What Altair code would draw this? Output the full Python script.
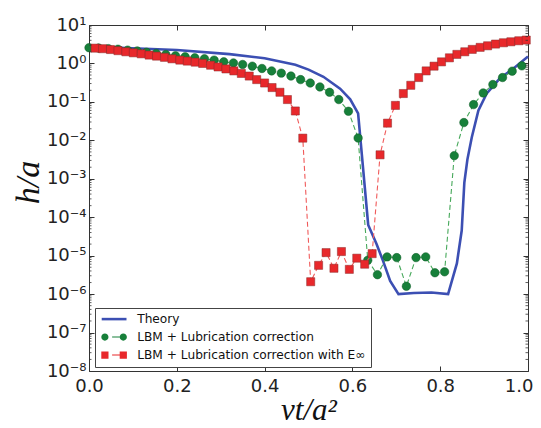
import altair as alt
import pandas as pd

# ---------------- data ----------------
theory_t = [0.0, 0.07, 0.2, 0.32, 0.4, 0.47, 0.5, 0.534, 0.572, 0.595, 0.613,
            0.636, 0.655, 0.67, 0.686, 0.705, 0.74, 0.78, 0.818, 0.838, 0.849,
            0.855, 0.862, 0.872, 0.887, 0.906, 0.936, 0.967, 1.0]
theory_h = [2.7, 2.57, 2.24, 1.75, 1.36, 0.92, 0.69, 0.45, 0.22, 0.117, 0.05,
            6.3e-5, 2.0e-5, 7.2e-6, 2.2e-6, 1.0e-6, 1.07e-6, 1.1e-6, 1.0e-6, 6.3e-6, 4.5e-5,
            8.0e-4, 3.2e-3, 1.2e-2, 6.0e-2, 0.166, 0.41, 0.74, 1.51]

green_t = [0.0, 0.022, 0.044, 0.066, 0.088, 0.11, 0.131, 0.153, 0.175, 0.197,
           0.219, 0.241, 0.263, 0.285, 0.307, 0.329, 0.35, 0.372, 0.394, 0.416,
           0.438, 0.46, 0.482, 0.504, 0.526, 0.548, 0.569, 0.591, 0.613, 0.635,
           0.657, 0.679, 0.701, 0.723, 0.745, 0.767, 0.788, 0.81, 0.832, 0.854,
           0.876, 0.898, 0.92, 0.942, 0.964, 0.986]
green_h = [2.57, 2.51, 2.43, 2.34, 2.22, 2.11, 1.95, 1.82, 1.71, 1.58,
           1.49, 1.40, 1.32, 1.22, 1.10, 1.03, 0.94, 0.85, 0.74, 0.64,
           0.56, 0.47, 0.38, 0.31, 0.245, 0.178, 0.115, 0.057, 0.0115, 7.6e-6,
           3.2e-6, 9.3e-6, 8.9e-6, 1.6e-6, 8.9e-6, 9.3e-6, 3.6e-6, 3.8e-6, 4.0e-3, 0.029,
           0.085, 0.171, 0.283, 0.43, 0.63, 0.865]

red_t = [0.014, 0.031, 0.049, 0.066, 0.084, 0.101, 0.119, 0.137, 0.154, 0.172,
         0.189, 0.207, 0.224, 0.242, 0.259, 0.277, 0.294, 0.312, 0.33, 0.347,
         0.365, 0.382, 0.4, 0.417, 0.435, 0.452, 0.47, 0.487, 0.505, 0.523,
         0.54, 0.558, 0.575, 0.593, 0.61, 0.628, 0.645, 0.663, 0.68, 0.698,
         0.716, 0.733, 0.751, 0.768, 0.786, 0.803, 0.821, 0.838, 0.856, 0.873,
         0.891, 0.908, 0.926, 0.944, 0.961, 0.979, 0.996]
red_h = [2.5, 2.42, 2.3, 2.15, 2.01, 1.89, 1.78, 1.65, 1.55, 1.44,
         1.32, 1.22, 1.15, 1.08, 1.0, 0.90, 0.81, 0.72, 0.64, 0.55,
         0.47, 0.38, 0.31, 0.236, 0.178, 0.115, 0.058, 0.0114, 2.1e-6, 5.6e-6,
         1.2e-5, 4.7e-6, 1.28e-5, 4.4e-6, 8.6e-6, 6.0e-6, 1.13e-5, 4.2e-3, 0.028, 0.081,
         0.165, 0.27, 0.43, 0.64, 0.85, 1.10, 1.40, 1.72, 2.01, 2.32,
         2.62, 2.88, 3.19, 3.45, 3.66, 3.89, 4.06]

series_names = ["Theory", "LBM + Lubrication correction",
                "LBM + Lubrication correction with E\u221e"]

x_ticks = [0.0, 0.2, 0.4, 0.6, 0.8, 1.0]
y_ticks = [1e-8, 1e-7, 1e-6, 1e-5, 1e-4, 1e-3, 1e-2, 1e-1, 1e0, 1e1]
y_tick_labels = ["10\u207b\u2078", "10\u207b\u2077", "10\u207b\u2076", "10\u207b\u2075",
                 "10\u207b\u2074", "10\u207b\u00b3", "10\u207b\u00b2", "10\u207b\u00b9",
                 "10\u2070", "10\u00b9"]
y_minor = [m * 10.0 ** e for e in range(-8, 1) for m in range(2, 10)]

# ---------------- style ----------------
W, H = 439, 346
BLUE = "#3c4fb3"
GREEN = "#17803a"
RED = "#e8282b"
GREEN_DASH = "#46a85a"
RED_DASH = "#f05a5a"
TICK = "#333333"

xscale = alt.Scale(domain=[0, 1], nice=False, zero=False)
yscale = alt.Scale(type="log", domain=[1e-8, 10], nice=False)

label_expr = "[" + ",".join("'%s'" % s for s in y_tick_labels) + "][round(log(datum.value)/LN10)+8]"

theory_df = pd.DataFrame({"t": theory_t, "h": theory_h})
green_df = pd.DataFrame({"t": green_t, "h": green_h})
red_df = pd.DataFrame({"t": red_t, "h": red_h})
minor_df = pd.DataFrame({"v": y_minor})
legend_df = pd.DataFrame({"series": series_names, "t": [0.5] * 3, "h": [1e-12] * 3})

bottom_axis = alt.Axis(values=x_ticks, format=".1f", offset=-5, tickSize=5, domain=False,
                       grid=False, labelFlush=False, labelPadding=6, labelFont="DejaVu Sans",
                       labelFontSize=18, labelColor="#222222", tickColor=TICK, tickWidth=1,
                       labelAlign={"condition": {"test": "datum.value >= 0.99", "value": "right"},
                                   "value": "center"},
                       labelOffset={"condition": {"test": "datum.value >= 0.99", "value": 5},
                                    "value": 0},
                       title="\u03bdt/a\u00b2", titleFont="Liberation Serif",
                       titleFontStyle="italic", titleFontWeight="normal", titleFontSize=31,
                       titleColor="#111111", titleBaseline="alphabetic", titleY=53)
left_axis = alt.Axis(values=y_ticks, labelExpr=label_expr, offset=-5, tickSize=5, domain=False,
                     grid=False, labelFlush=False, labelPadding=3, labelFont="DejaVu Sans",
                     labelFontSize=18, labelColor="#222222", tickColor=TICK, tickWidth=1,
                     title="h/a", titleFont="Liberation Serif", titleFontStyle="italic",
                     titleFontWeight="normal", titleFontSize=34, titleColor="#111111",
                     titleAngle=270, titleAlign="center", titleBaseline="middle",
                     titleX=-66, titleY=H / 2 - 16)
top_axis = alt.Axis(orient="top", values=x_ticks, labels=False, offset=-5, tickSize=5,
                    domain=False, grid=False, title=None, tickColor=TICK, tickWidth=1)
right_axis = alt.Axis(orient="right", values=y_ticks, labels=False, offset=-5, tickSize=5,
                      domain=False, grid=False, title=None, tickColor=TICK, tickWidth=1)

theory = alt.Chart(theory_df).mark_line(color=BLUE, strokeWidth=2.6).encode(
    x=alt.X("t:Q", scale=xscale, axis=bottom_axis),
    y=alt.Y("h:Q", scale=yscale, axis=left_axis),
)

green_line = alt.Chart(green_df).mark_line(color=GREEN_DASH, strokeWidth=1.1,
                                           strokeDash=[5, 3]).encode(
    x=alt.X("t:Q", scale=xscale, axis=top_axis),
    y=alt.Y("h:Q", scale=yscale, axis=right_axis),
)
green_pts = alt.Chart(green_df).mark_point(shape="circle", filled=True, size=72, fill=GREEN,
                                           fillOpacity=1, stroke="#0f5a26", strokeWidth=0.5,
                                           opacity=1).encode(
    x=alt.X("t:Q", scale=xscale, axis=None),
    y=alt.Y("h:Q", scale=yscale, axis=None),
)
red_line = alt.Chart(red_df).mark_line(color=RED_DASH, strokeWidth=1.1,
                                       strokeDash=[5, 3]).encode(
    x=alt.X("t:Q", scale=xscale, axis=None),
    y=alt.Y("h:Q", scale=yscale, axis=None),
)
red_pts = alt.Chart(red_df).mark_point(shape="square", filled=True, size=66, fill=RED,
                                       fillOpacity=1, stroke="#8a2a2a", strokeWidth=0.5,
                                       opacity=1).encode(
    x=alt.X("t:Q", scale=xscale, axis=None),
    y=alt.Y("h:Q", scale=yscale, axis=None),
)

minor_left = alt.Chart(minor_df).mark_rule(color=TICK, strokeWidth=0.8).encode(
    y=alt.Y("v:Q", scale=yscale, axis=None),
    x=alt.value(0), x2=alt.value(2.5),
)
minor_right = alt.Chart(minor_df).mark_rule(color=TICK, strokeWidth=0.8).encode(
    y=alt.Y("v:Q", scale=yscale, axis=None),
    x=alt.value(W - 2.5), x2=alt.value(W),
)

# legend symbols (custom paths: line, circle-dash-circle, square-dash-square)
sym_paths = [
    "M-3.1,-0.32H3.1V0.32H-3.1Z",
    "M-3.2,0A0.9,0.9,0,1,0,-1.4,0A0.9,0.9,0,1,0,-3.2,0Z"
    "M1.4,0A0.9,0.9,0,1,0,3.2,0A0.9,0.9,0,1,0,1.4,0Z"
    "M-0.5,-0.13H1.4V0.13H-0.5Z",
    "M-3.2,-0.9H-1.4V0.9H-3.2Z"
    "M1.4,-0.9H3.2V0.9H1.4Z"
    "M-0.5,-0.13H1.4V0.13H-0.5Z",
]
leg = alt.Legend(title=None, orient="none", legendX=6, legendY=283, padding=5,
                 rowPadding=5, symbolSize=64, symbolOffset=8, labelOffset=17,
                 labelFont="DejaVu Sans", labelFontSize=12.2, labelColor="#111111",
                 labelLimit=400, strokeColor="#444444", fillColor="white",
                 cornerRadius=0, symbolStrokeWidth=0, symbolOpacity=1)
legend_layer = alt.Chart(legend_df).mark_point(filled=True, clip=True, size=64).encode(
    x=alt.X("t:Q", scale=xscale, axis=None),
    y=alt.Y("h:Q", scale=yscale, axis=None),
    color=alt.Color("series:N", scale=alt.Scale(domain=series_names, range=[BLUE, GREEN, RED]),
                    legend=leg, sort=series_names),
    shape=alt.Shape("series:N", scale=alt.Scale(domain=series_names, range=sym_paths),
                    legend=leg, sort=series_names),
)

chart = alt.layer(
    theory, green_line, green_pts, red_line, red_pts, minor_left, minor_right, legend_layer
).resolve_axis(
    x="independent", y="independent"
).properties(
    width=W, height=H, autosize="none",
    padding={"left": 81, "top": 17, "right": 5, "bottom": 57},
).configure_view(
    stroke="#333333", strokeWidth=1
)

chart.save("out.html", embed_options={"renderer": "svg", "actions": False})
